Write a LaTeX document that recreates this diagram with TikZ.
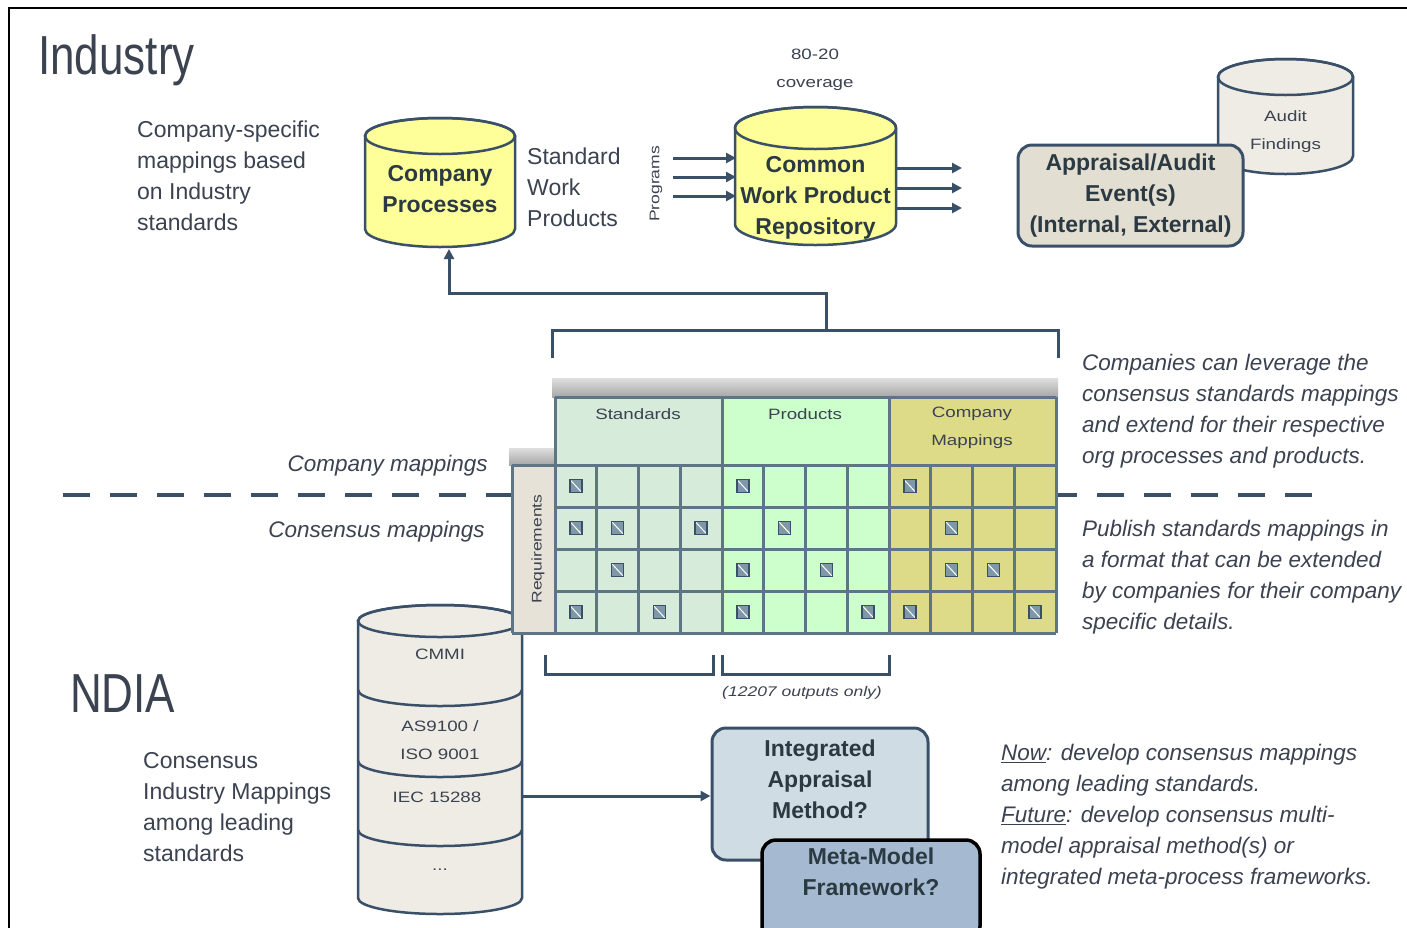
\documentclass[tikz,border=0pt]{standalone}
\usepackage{fontspec}
\setmainfont{Liberation Sans}
\newfontfamily\narrowf[FakeStretch=0.8]{Liberation Sans}
\newfontfamily\widef[FakeStretch=1.25]{Liberation Sans}
\usetikzlibrary{arrows.meta}
\definecolor{ln}{HTML}{3A5068}
\definecolor{tx}{HTML}{3B4250}
\definecolor{btx}{HTML}{2B3A42}
\definecolor{yel}{HTML}{FFFF99}
\definecolor{cream}{HTML}{EFECE5}
\definecolor{tanc}{HTML}{E3DED2}
\definecolor{stdc}{HTML}{D6EBDA}
\definecolor{prodc}{HTML}{CCFFCC}
\definecolor{compc}{HTML}{DDDA88}
\definecolor{gridc}{HTML}{5E7585}
\definecolor{reqc}{HTML}{E6E2D7}
\definecolor{iamc}{HTML}{D0DCE3}
\definecolor{mmfc}{HTML}{A5BAD0}
\definecolor{chkc}{HTML}{7F98A8}
\newcommand{\drawcyl}[6]{%
  \pgfmathsetmacro{\cylrx}{(#2-#1)/2}%
  \pgfmathsetmacro{\cylcx}{(#1+#2)/2}%
  \path[fill=#6, draw=ln, line width=2.5pt] (#1,#3) -- (#1,#4)
    arc[start angle=180,end angle=0,x radius=\cylrx,y radius=#5] -- (#2,#3)
    arc[start angle=0,end angle=-180,x radius=\cylrx,y radius=#5] -- cycle;
  \draw[ln, line width=2.5pt] (\cylcx,#3) ellipse[x radius=\cylrx, y radius=#5];
}
\begin{document}
\begin{tikzpicture}[x=1pt,y=-1pt,
  every node/.style={inner sep=0pt, text=tx},
  lbl/.style={font=\fontsize{23}{31}\selectfont, align=left, anchor=north west},
  ital/.style={font=\fontsize{22.5}{31}\selectfont\itshape, align=left, anchor=north west},
  boldt/.style={font=\fontsize{23}{31}\selectfont\bfseries, align=center, text=btx},
  smallt/.style={font=\widef\fontsize{15}{28}\selectfont, align=center},
  title/.style={font=\narrowf\fontsize{55}{60}\selectfont, anchor=base west},
  arr/.style={draw=ln, line width=3pt, -{Triangle[length=10pt,width=10pt]}},
  gridl/.style={draw=gridc, line width=3pt},
  brack/.style={draw=ln, line width=3pt},
  rbox/.style={draw=ln, line width=3pt, rounded corners=14pt},
  chk/.style={draw=ln, fill=chkc, line width=1.3pt, minimum width=12pt, minimum height=13pt,
    path picture={\draw[white, line width=1pt] (path picture bounding box.north west) -- (path picture bounding box.south east);}}
]
\clip (0,0) rectangle (1407,927);
\fill[white] (0,0) rectangle (1407,927);
\draw[black, line width=2pt] (9,930) -- (9,8) -- (1410,8);

% titles
\node[title] (ind) at (38,74) {Industry};
\node[title] (ndia) at (70,712) {NDIA};

% left labels
\node[lbl] (cs) at (137,121) {Company-specific\\mappings based\\on Industry\\standards};
\node[lbl] (cim) at (143,752) {Consensus\\Industry Mappings\\among leading\\standards};
\node[lbl] (swp) at (527,148) {Standard\\Work\\Products};

% company processes cylinder
\drawcyl{365}{515}{136}{229}{18}{yel}
\node[boldt] (cp) at (440,189) {Company\\Processes};
\coordinate (cpin) at (449,249);

% programs label + arrows
\node[smallt, rotate=90, font=\widef\fontsize{14}{16}\selectfont] (prog) at (656,184) {Programs};
\coordinate (pa1) at (673,158); \coordinate (pa2) at (673,177); \coordinate (pa3) at (673,196);
\coordinate (pb1) at (736,158); \coordinate (pb2) at (736,177); \coordinate (pb3) at (736,196);
\draw[arr] (pa1) -- (pb1);
\draw[arr] (pa2) -- (pb2);
\draw[arr] (pa3) -- (pb3);

% common work product repository
\drawcyl{735}{896}{128}{224}{21}{yel}
\node[boldt] (cwpr) at (815.5,198) {Common\\Work Product\\Repository};
\node[smallt] (cov) at (815,70) {80-20\\coverage};
\coordinate (oa1) at (897,168); \coordinate (oa2) at (897,188); \coordinate (oa3) at (897,208);
\coordinate (ob1) at (962,168); \coordinate (ob2) at (962,188); \coordinate (ob3) at (962,208);
\draw[arr] (oa1) -- (ob1);
\draw[arr] (oa2) -- (ob2);
\draw[arr] (oa3) -- (ob3);

% audit findings + appraisal
\drawcyl{1218}{1353}{77}{156}{18}{cream}
\node[smallt] (af) at (1285.5,132) {Audit\\Findings};
\node[rbox, fill=tanc, minimum width=225pt, minimum height=101pt] (app) at (1130.5,195.5) {};
\node[boldt] (appt) at (app.center) {Appraisal/Audit\\Event(s)\\(Internal, External)};

% dashed separator
\draw[ln, line width=4.5pt, dash pattern=on 27pt off 20pt] (63,495) -- (1332,495);
\node[ital, anchor=base east] (cmap) at (488,471) {Company mappings};
\node[ital, anchor=base east] (conmap) at (485,537) {Consensus mappings};

% CMMI stack
\drawcyl{358}{522}{621}{898}{16}{cream}
\draw[ln, line width=2.5pt] (358,690) arc[start angle=180,end angle=0,x radius=82,y radius=16];
\draw[ln, line width=2.5pt] (358,761) arc[start angle=180,end angle=0,x radius=82,y radius=16];
\draw[ln, line width=2.5pt] (358,830) arc[start angle=180,end angle=0,x radius=82,y radius=16];
\node[smallt] (cmmi) at (440,654) {CMMI};
\node[smallt] (as) at (440,740) {AS9100 /\\ISO 9001};
\node[smallt] (iec) at (437,797) {IEC 15288};
\node[smallt] (dots) at (440,870) {...};
\coordinate (stk) at (523,796);

% matrix
\shade[top color=gray!25, bottom color=gray!70] (552,378) rectangle (1058,397);
\shade[top color=gray!25, bottom color=gray!70] (509,448) rectangle (555,465);
\fill[stdc] (555,397) rectangle (722,633);
\fill[prodc] (722,397) rectangle (889,633);
\fill[compc] (889,397) rectangle (1056,633);
\fill[reqc] (512,465) rectangle (555,633);
\foreach \yy in {465,633} \draw[gridl] (512,\yy) -- (1056,\yy);
\foreach \yy in {507,549,591} \draw[gridl] (555,\yy) -- (1056,\yy);
\draw[gridl] (555,397) -- (1056,397);
\foreach \xx in {555,722,889,1056} \draw[gridl] (\xx,397) -- (\xx,633);
\draw[gridl] (512,465) -- (512,633);
\foreach \k in {1,2,3,5,6,7,9,10,11} \draw[gridl] ({555+\k*41.75},465) -- ({555+\k*41.75},633);
\node[smallt] (hstd) at (638,414) {Standards};
\node[smallt] (hprod) at (805,414) {Products};
\node[smallt] (hcomp) at (972,428) {Company\\Mappings};
\node[smallt, rotate=90, font=\widef\fontsize{14}{16}\selectfont] (req) at (538,549) {Requirements};
\foreach \r/\c in {1/1,1/5,1/9, 2/1,2/2,2/4,2/6,2/10, 3/2,3/5,3/7,3/10,3/11, 4/1,4/3,4/5,4/8,4/9,4/12}
  \node[chk] (k\r-\c) at ({555+(\c-0.5)*41.75},{465+(\r-0.5)*42}) {};

% top bracket and arrow to company processes
\draw[brack] (552,358) -- (552,330) -- (1058,330) -- (1058,358);
\coordinate (brk) at (826,330);
\draw[arr] (brk) -- ++(0,-37) -| (cpin);

% lower brackets
\draw[brack] (545,655) -- (545,674) -- (713,674) -- (713,655);
\draw[brack] (722,655) -- (722,674) -- (889,674) -- (889,655);
\node[smallt, font=\widef\fontsize{14}{16}\selectfont\itshape] (only) at (802,693) {(12207 outputs only)};

% right texts
\node[ital] (t1) at (1082,354) {Companies can leverage the\\consensus standards mappings\\and extend for their respective\\org processes and products.};
\node[ital] (t2) at (1082,520) {Publish standards mappings in\\a format that can be extended\\by companies for their company\\specific details.};
\node[ital] (t3) at (1001,744) {\underline{Now}: develop consensus mappings\\among leading standards.\\\underline{Future}: develop consensus multi-\\model appraisal method(s) or\\integrated meta-process frameworks.};

% appraisal method boxes
\node[rbox, fill=iamc, minimum width=216pt, minimum height=132pt] (iam) at (820,794) {};
\node[boldt] (iamt) at (820,779) {Integrated\\Appraisal\\Method?};
\draw[arr] (stk) -- (stk -| iam.west);
\node[rbox, draw=black, line width=3.5pt, fill=mmfc, minimum width=218pt, minimum height=100pt] (mmf) at (871,890) {};
\node[boldt] (mmft) at (871,872) {Meta-Model\\Framework?};
\end{tikzpicture}
\end{document}
